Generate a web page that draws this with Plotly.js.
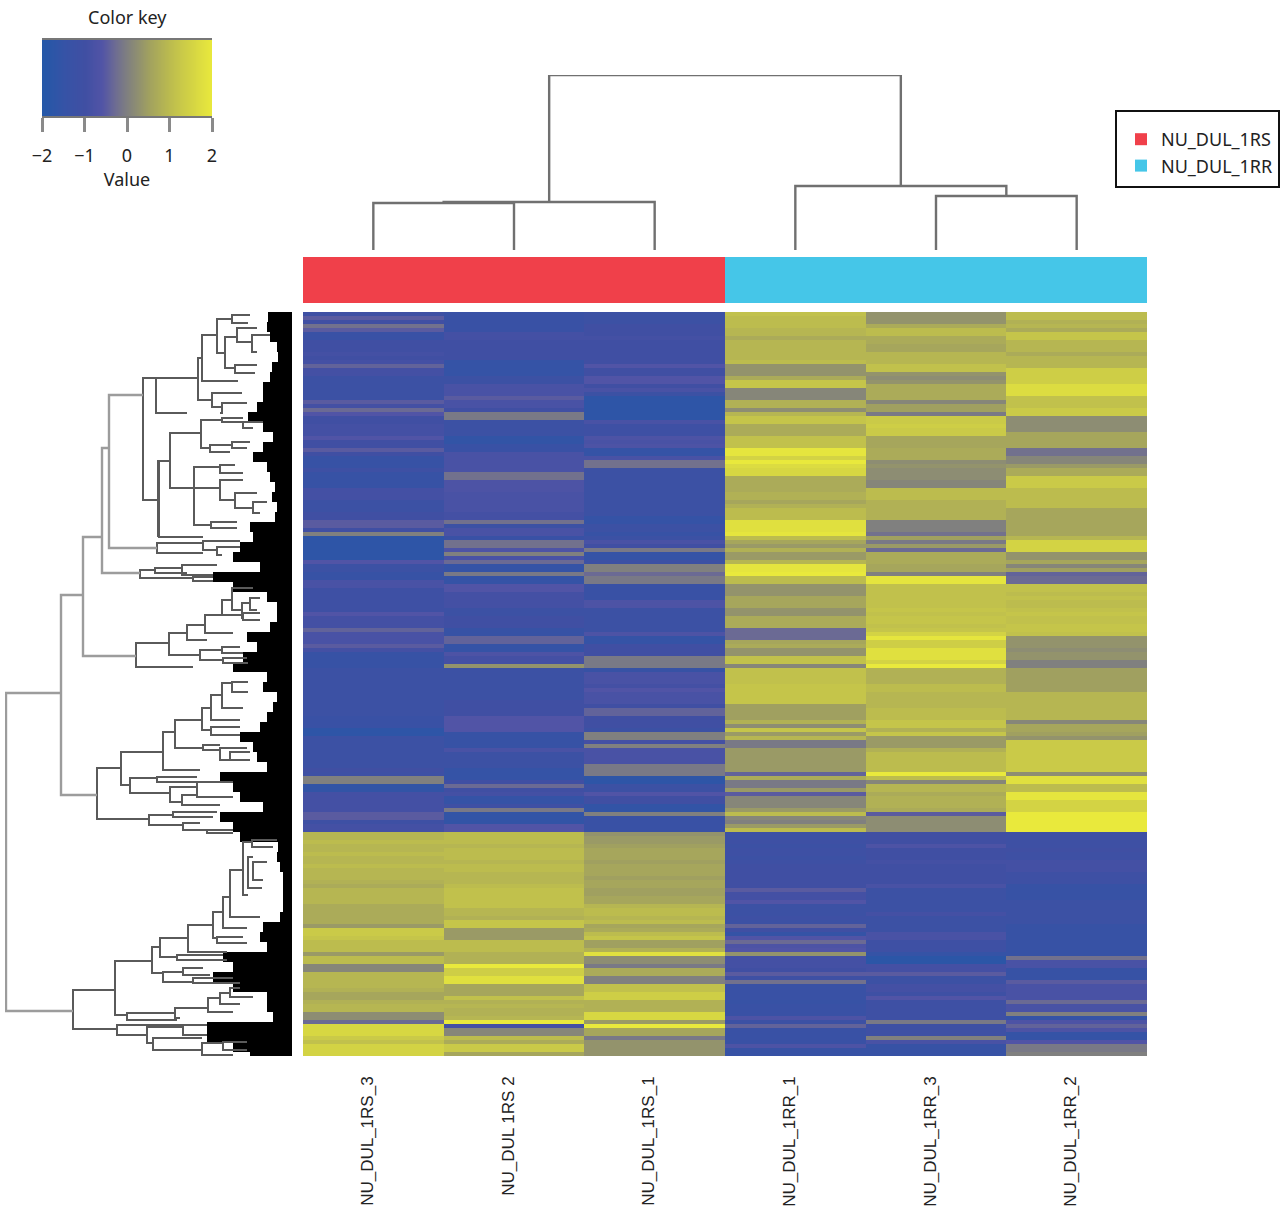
<!DOCTYPE html>
<html>
<head>
<meta charset="utf-8">
<script src="https://cdn.plot.ly/plotly-3.0.0.min.js"></script>
<style>html,body{margin:0;padding:0;background:#fff}#chart{width:1282px;height:1214px}</style>
</head>
<body>
<div id="chart"></div>
<script>
const sampleLabels = ['NU_DUL_1RS_3','NU_DUL 1RS 2','NU_DUL_1RS_1','NU_DUL_1RR_1','NU_DUL_1RR_3','NU_DUL_1RR_2'];
const sampleOrder = [0,1,2,3,4,5];
const groupRS = [0,1,2];
const groupRR = [3,4,5];
const groupNames = ['NU_DUL_1RS','NU_DUL_1RR'];
const keyTicks = [-2,-1,0,1,2];
const keyTickText = ['\u22122','\u22121','0','1','2'];
const keyValues = [-2,-1.75,-1.5,-1.25,-1,-0.75,-0.5,-0.25,0,0.25,0.5,0.75,1,1.25,1.5,1.75,2];
const keyRows = [0,1];

const rs3 = [
-1.1,-0.5,-1.0,-0.2,-0.5,-1.3,-1.3,-1.0,-1.0,-1.0,
-0.9,-1.0,-0.9,-0.4,-0.9,-0.9,-1.2,-1.2,-1.2,-1.2,
-1.2,-1.2,-0.5,-0.9,-0.3,-0.6,-1.0,-1.0,-0.9,-0.9,
-0.9,-0.6,-1.0,-1.0,-0.5,-1.0,-1.4,-1.4,-1.4,-1.1,
-1.4,-1.4,-1.4,-1.4,-0.9,-0.9,-0.9,-1.2,-1.2,-1.2,
-1.0,-1.0,-0.5,-0.5,-1.0,0.0,-1.7,-1.7,-1.7,-1.7,
-1.7,-1.7,-0.6,-1.2,-1.2,-1.4,-1.4,-0.8,-0.8,-1.1,
-1.1,-1.1,-1.1,-1.1,-1.1,-0.6,-0.9,-0.9,-0.9,-0.4,
-0.8,-0.8,-0.8,-0.5,-0.9,-1.4,-1.4,-1.4,-1.4,-1.2,
-1.2,-1.2,-1.2,-1.2,-1.2,-1.2,-1.2,-1.2,-1.2,-1.2,
-1.2,-1.3,-1.3,-1.3,-1.7,-1.7,-1.2,-1.2,-1.2,-1.2,
-1.2,-1.2,-1.2,-1.2,-1.0,-1.1,0.0,0.0,-1.6,-1.6,
-0.9,-0.9,-0.9,-0.9,-0.9,-0.5,-0.5,-1.1,-0.9,-0.9,
0.9,0.9,1.0,0.9,0.9,1.0,0.9,0.9,1.0,0.9,
0.9,0.9,0.8,0.7,0.9,0.9,0.9,0.9,0.7,0.7,
0.7,0.7,0.7,0.4,1.3,1.3,1.2,1.0,1.0,1.0,
0.4,1.0,1.0,0.1,0.1,0.9,0.9,0.9,0.9,0.8,
0.6,0.6,0.8,0.9,0.9,0.2,0.2,-0.3,1.6,1.6,
1.6,1.3,1.1,1.5,1.5,1.5];
const rs2 = [
-1.3,-1.3,-1.3,-1.3,-1.3,-0.9,-0.9,-1.0,-1.0,-1.0,
-1.0,-1.0,-1.5,-1.5,-1.5,-1.5,-1.2,-1.2,-0.8,-0.8,
-0.8,-0.5,-0.8,-0.8,-1.0,-0.1,-0.1,-1.2,-1.2,-1.2,
-1.2,-1.6,-1.6,-1.3,-1.3,-0.8,-0.8,-0.8,-0.8,-0.8,
-0.2,-0.2,-0.7,-0.7,-0.7,-0.8,-0.8,-0.8,-0.8,-0.8,
-0.9,-0.9,-0.2,-1.2,-0.8,-0.8,-1.3,-0.2,-0.2,-0.7,
0.0,-0.8,-0.3,-1.5,-1.5,-0.1,-1.5,-1.5,-0.6,-0.6,
-0.9,-0.9,-0.9,-0.9,-1.2,-1.2,-1.0,-1.0,-1.0,-1.4,
-1.4,-0.4,-0.4,-1.5,-1.5,-0.7,-0.9,-0.9,0.3,-1.2,
-1.2,-1.2,-1.2,-1.2,-1.2,-1.2,-1.2,-1.0,-1.0,-1.0,
-1.0,-0.6,-0.6,-0.6,-0.6,-1.4,-1.4,-1.4,-1.4,-0.8,
-1.2,-1.2,-1.2,-1.2,-1.5,-1.5,-1.5,-1.0,-0.3,-1.0,
-0.9,-1.5,-1.5,-1.1,-0.1,-1.6,-1.6,-1.6,-0.6,-0.6,
1.0,1.0,1.0,0.9,1.0,1.0,1.0,0.9,1.0,1.0,
0.9,0.9,0.9,1.0,1.1,1.1,1.1,1.1,1.1,0.9,
0.9,0.8,1.2,1.2,0.4,0.4,0.4,1.0,1.0,1.0,
0.8,0.8,0.8,2.0,1.4,1.4,1.8,1.8,0.6,0.6,
0.6,1.1,0.8,0.9,0.8,0.8,0.9,2.0,-0.9,0.1,
0.1,1.0,0.7,1.3,1.3,0.6];
const rs1 = [
-1.2,-1.2,-1.2,-1.0,-1.0,-1.0,-0.9,-1.0,-1.0,-1.0,
-1.0,-1.0,-1.0,-0.6,-1.0,-1.0,-0.6,-0.6,-1.0,-0.8,
-1.2,-1.7,-1.7,-1.7,-1.7,-1.7,-1.7,-0.8,-1.1,-1.1,
-1.1,-0.7,-0.8,-0.7,-1.5,-1.5,-0.8,-0.2,-0.2,-1.2,
-1.2,-1.2,-1.2,-1.2,-1.2,-1.2,-1.2,-1.2,-1.2,-1.2,
-1.2,-1.5,-1.5,-1.2,-1.2,-1.4,-1.2,-0.8,-1.0,-0.1,
-1.5,-1.5,-1.2,0.0,0.0,-0.3,-0.1,-0.1,-1.3,-1.3,
-1.3,-1.3,-0.7,-0.7,-1.2,-1.2,-1.2,-1.2,-1.2,-1.2,
-0.7,-1.5,-1.5,-1.0,-1.0,-1.0,-0.1,-0.1,-0.1,-1.4,
-0.8,-0.8,-0.8,-0.9,-0.6,-0.8,-0.8,-0.8,-1.0,-0.4,
-0.4,-1.0,-1.0,-1.0,-1.2,0.0,0.0,-0.9,0.0,-0.8,
-0.8,-0.8,-0.8,-0.1,-0.1,-0.1,-1.7,-1.7,-1.2,-1.2,
-0.6,-1.0,-1.0,-1.6,-1.6,0.0,-1.3,-1.3,-1.3,-1.3,
0.3,0.4,0.4,0.5,0.6,0.6,0.6,0.5,0.6,0.6,
0.6,0.5,0.6,0.6,0.5,0.5,0.6,0.6,0.9,1.0,
1.0,0.9,1.0,0.6,0.7,1.0,1.2,0.5,0.5,0.8,
1.8,0.2,0.2,-0.1,0.7,0.7,0.0,0.0,1.1,1.1,
1.4,1.4,0.8,0.8,0.8,1.6,1.6,0.4,2.0,0.6,
0.6,-0.1,0.3,0.3,0.3,0.3];
const rr1 = [
1.1,1.0,1.0,1.0,0.9,0.9,0.7,0.9,0.9,0.9,
0.9,0.9,1.0,0.3,0.3,0.3,0.7,1.2,1.2,0.1,
0.1,0.1,0.8,0.8,0.2,0.9,1.2,1.2,0.7,0.7,
0.7,1.1,1.1,1.1,1.9,1.9,1.5,2.0,1.7,1.6,
1.6,0.7,0.7,0.7,0.7,0.8,0.8,0.6,0.8,1.0,
1.0,1.0,1.8,1.8,1.8,1.9,1.0,0.6,0.4,0.8,
0.4,0.4,0.9,1.9,1.9,2.0,1.0,1.0,0.3,0.3,
0.3,0.6,0.6,0.6,0.3,0.3,0.7,0.7,0.7,-0.3,
-0.3,-0.3,0.6,0.7,0.3,0.3,1.1,1.1,0.1,1.1,
1.1,1.1,1.1,1.2,1.2,1.2,1.2,1.2,0.5,0.5,
0.5,0.5,0.8,0.2,1.2,0.4,0.9,-0.1,-0.1,0.4,
0.4,0.4,0.4,0.4,0.4,-0.4,0.7,-0.1,-0.1,0.4,
-0.5,0.1,0.1,0.1,0.4,1.0,0.1,0.0,0.4,1.0,
-1.2,-1.2,-1.1,-1.2,-1.1,-1.1,-1.2,-1.1,-1.0,-1.0,
-1.0,-1.0,-1.0,-1.0,-0.5,-0.9,-0.9,-0.6,-1.2,-1.2,
-1.2,-1.1,-1.2,-0.4,-1.0,-1.5,-0.6,-0.3,-0.7,-0.6,
0.3,-0.9,-0.9,-0.9,-1.0,-0.5,-1.1,-0.2,-1.3,-1.3,
-1.3,-1.3,-1.4,-1.3,-1.3,-1.3,-0.7,-1.2,-0.4,-1.3,
-1.3,-1.3,-1.3,-0.7,-1.4,-1.4];
const rr3 = [
0.3,0.3,0.3,0.7,1.0,1.0,0.7,0.7,0.6,0.6,
0.9,0.9,0.9,1.1,1.1,0.3,0.2,0.3,0.7,0.7,
0.7,0.7,0.1,0.5,0.5,-0.1,1.3,1.3,1.4,1.3,
1.3,0.6,0.6,0.6,0.7,0.7,0.7,0.2,0.3,0.2,
0.2,0.2,0.1,0.1,1.0,1.0,1.0,0.8,0.8,0.8,
0.8,0.8,0.0,0.0,0.0,-0.2,0.5,-0.1,0.4,-0.3,
0.7,0.7,0.7,0.6,0.6,0.0,1.9,1.9,1.1,1.1,
1.1,1.1,1.1,1.1,1.2,1.1,1.2,1.2,1.1,1.2,
1.5,1.9,1.4,1.4,1.8,1.8,1.8,1.5,2.0,0.8,
0.8,0.8,0.8,1.0,1.0,0.9,0.9,0.9,0.9,1.0,
1.0,1.0,1.2,1.2,0.8,1.2,0.4,0.4,0.4,0.8,
1.0,1.0,1.0,1.0,1.0,2.0,1.0,0.1,0.9,0.9,
0.7,0.8,0.8,0.8,0.7,-0.5,0.2,0.2,0.2,0.2,
-1.0,-1.0,-1.0,-0.7,-1.0,-1.0,-1.0,-0.9,-1.0,-1.0,
-1.0,-1.0,-1.0,-0.8,-1.2,-1.2,-1.2,-1.2,-1.2,-1.2,
-0.9,-1.2,-1.2,-1.2,-1.2,-0.8,-0.8,-1.1,-1.1,-1.1,
-1.5,-1.8,-1.8,-0.9,-0.9,-0.5,-1.2,-1.2,-0.9,-0.9,
-1.1,-0.6,-1.1,-1.1,-1.1,-1.1,-1.1,-0.1,-1.1,-1.1,
-1.1,0.0,-0.8,-1.4,-1.4,-1.4];
const rr2 = [
1.0,1.0,0.8,0.9,0.7,1.2,1.2,0.9,0.9,0.9,
0.7,0.9,0.9,0.9,1.4,1.4,1.4,1.4,1.7,1.7,
1.7,1.1,1.1,1.1,1.3,1.3,0.2,0.2,0.2,0.2,
0.6,0.6,0.6,0.6,-0.2,-0.2,0.1,0.1,0.4,0.7,
0.7,1.3,1.3,1.3,1.0,1.0,1.0,1.0,1.0,0.6,
0.6,0.6,0.6,0.6,0.6,0.6,0.9,1.5,1.5,1.5,
0.3,0.3,0.6,0.1,0.5,-0.4,-0.3,-0.3,1.1,1.1,
1.0,1.1,1.0,1.0,1.1,1.2,1.1,1.1,1.2,1.2,
1.1,0.3,0.3,0.3,0.2,0.3,0.3,0.0,0.0,0.5,
0.5,0.5,0.5,0.5,0.5,0.9,0.9,0.9,0.9,0.9,
0.9,0.9,0.1,0.6,0.6,0.5,0.3,1.3,1.3,1.3,
1.3,1.3,1.3,1.3,1.3,0.2,1.8,1.8,1.0,1.0,
1.9,1.9,1.5,1.5,1.5,2.0,2.0,2.0,2.0,2.0,
-1.1,-1.1,-1.1,-1.1,-1.0,-1.1,-1.1,-0.9,-0.9,-0.9,
-1.1,-1.1,-1.1,-1.4,-1.4,-1.4,-1.4,-1.2,-1.2,-1.2,
-1.2,-1.2,-1.2,-1.4,-1.4,-1.4,-1.4,-1.4,-1.4,-1.4,
-1.4,-0.2,-0.8,-0.8,-1.4,-1.4,-1.4,-0.5,-0.8,-0.8,
-0.8,-0.8,-0.3,-0.8,-0.8,0.0,-1.5,-0.7,-0.4,-0.7,
-1.5,-1.5,-0.6,-0.1,-0.1,0.0];

// Sample tree: [height, left position, left child height, right position, right child height]
const topTree = [
[26.9,0,0,1,0],
[27.4,0.5,26.9,2,0],
[30.9,4,0,5,0],
[36.6,3,0,4.5,30.9],
[100,1.25,27.4,3.75,36.6]];

// Gene tree: [distance, upper leaf position, upper child distance, lower leaf position, lower child distance]
const geneTreeOuter = [
[286,381,231,699,219],[231,283,209,483,195],[209,225,190,344,156],[190,136,183,261,152],[183,83,149,236,135]];
const geneTreeInner = [
[149,66,136,188,134],[136,66,94,101,105],[94,46,90,88,80],[90,23,75,69,54],[75,7,60,41,67],
[60,3,42,11,44],[67,25,55,56,57],[55,16,35,30,40],[40,23,22,40,35],[57,53,35,61,37],
[80,81,50,95,70],[70,91,45,101,72],[134,149,133,225,134],[133,149,122,225,89],[122,121,91,176,98],
[91,108,70,136,82],[70,106,49,110,49],[49,110,29,116,39],[82,133,60,140,62],[60,130,42,136,45],
[98,155,72,213,81],[98,176,72,176,72],[72,168,49,188,57],[57,181,35,196,39],[39,190,25,201,32],
[72,153,57,161,49],[81,210,55,216,55],[135,231,89,241,89],[89,229,52,238,75],[75,235,52,243,70],
[152,258,137,266,99],[137,256,110,261,105],[110,253,75,263,79],[99,265,79,269,79],
[156,331,123,355,99],[123,321,105,343,92],[105,313,87,328,85],[87,303,70,321,59],[70,288,60,303,49],
[60,276,39,298,50],[50,291,42,306,49],[42,286,32,298,35],[49,301,32,308,32],[92,338,70,348,69],
[70,335,52,341,49],[69,346,45,351,44],
[195,456,171,507,143],[171,440,129,473,162],[129,420,117,458,92],[117,408,90,436,89],[90,396,81,418,81],
[81,383,70,408,52],[70,371,60,396,49],[60,370,44,380,44],[81,415,52,423,52],[89,433,72,438,72],
[72,436,45,448,62],[62,440,42,448,42],[162,466,135,481,122],[135,465,95,470,95],[122,475,95,490,110],
[95,470,59,485,59],[110,483,94,493,72],[143,503,119,513,109],[119,500,75,505,79],[109,511,92,518,85],
[85,518,59,521,59],
[219,678,177,717,175],[177,649,140,703,165],[140,635,132,661,129],[132,626,104,645,115],[104,613,79,640,65],
[79,600,69,626,75],[69,585,62,616,45],[62,558,49,605,32],[49,530,40,583,44],[40,528,15,535,19],
[44,545,39,576,30],[39,550,25,568,29],[75,625,49,631,45],[115,643,69,648,65],[129,660,109,670,99],
[109,656,89,663,82],[99,666,59,671,52],[165,701,117,708,115],[117,696,84,706,112],[84,686,72,700,59],
[72,681,62,692,52],[62,676,52,685,39],[175,713,105,723,145],[145,715,109,731,139],[109,713,85,723,85],
[139,726,90,738,90],[90,731,69,743,59],[69,730,45,738,45]];

// Depth of the dense leaf fan, one value per 10 leaf positions
const leafFanPositions = [];
for (let k = 0; k < 75; k++) leafFanPositions.push(k * 10 + 5);
const leafFanDepth = [
24,25,22,15,14,20,22,29,29,35,44,29,19,29,39,25,22,17,20,15,
17,42,39,52,59,32,79,59,25,15,15,22,45,35,49,59,25,29,
15,19,25,32,52,39,35,25,72,59,52,29,72,59,52,14,15,12,9,9,
9,9,12,29,32,25,69,59,79,59,25,25,19,85,85,59,42];

const heatColors = [
[0,'#2458a8'],[0.125,'#3553a6'],[0.25,'#404fa3'],[0.35,'#5154a6'],[0.425,'#6b6a94'],
[0.5,'#80807f'],[0.625,'#a0a060'],[0.75,'#bcbc4e'],[0.875,'#d3d344'],[1,'#e9e93c']];

const W = 1282, H = 1214;
const xDom = (a, b) => [a / W, b / W];
const yDom = (top, bottom) => [1 - bottom / H, 1 - top / H];

const heatColumns = [rs3, rs2, rs1, rr1, rr3, rr2];
const rowCount = rs3.length;
const rowIndex = Array.from({length: rowCount}, (_, i) => i);
const z = rowIndex.map(i => heatColumns.map(c => c[i]));

function hBrackets(table) {
  const xs = [], ys = [];
  table.forEach(([d, p1, c1, p2, c2]) => {
    xs.push(c1, d, d, c2, null);
    ys.push(p1, p1, p2, p2, null);
  });
  return {x: xs, y: ys};
}
function vBrackets(table) {
  const xs = [], ys = [];
  table.forEach(([h, p1, c1, p2, c2]) => {
    xs.push(p1, p1, p2, p2, null);
    ys.push(c1, h, h, c2, null);
  });
  return {x: xs, y: ys};
}
const topLines = vBrackets(topTree);
const outerLines = hBrackets(geneTreeOuter);
const innerLines = hBrackets(geneTreeInner);
const keyZ = keyRows.map(() => keyValues);

const fontFam = '"Noto Sans", sans-serif';

const traces = [
  {type:'heatmap', x:sampleOrder, y:rowIndex, z:z, xaxis:'x', yaxis:'y', colorscale:heatColors, zmin:-2, zmax:2, showscale:false, hoverinfo:'skip'},
  {type:'bar', name:groupNames[0], x:groupRS, y:groupRS.map(() => 1), xaxis:'x', yaxis:'y2', width:1, marker:{color:'#f0404a', line:{width:0}}, hoverinfo:'skip', showlegend:true},
  {type:'bar', name:groupNames[1], x:groupRR, y:groupRR.map(() => 1), xaxis:'x', yaxis:'y2', width:1, marker:{color:'#45c6e8', line:{width:0}}, hoverinfo:'skip', showlegend:true},
  {type:'scatter', mode:'lines', x:topLines.x, y:topLines.y, xaxis:'x', yaxis:'y3', line:{color:'#707070', width:2.4}, cliponaxis:false, showlegend:false, hoverinfo:'skip'},
  {type:'bar', orientation:'h', x:leafFanDepth, y:leafFanPositions, xaxis:'x4', yaxis:'y4', width:10, marker:{color:'#000', line:{width:0}}, showlegend:false, hoverinfo:'skip'},
  {type:'scatter', mode:'lines', x:innerLines.x, y:innerLines.y, xaxis:'x4', yaxis:'y4', line:{color:'#5a5a5a', width:2}, cliponaxis:false, showlegend:false, hoverinfo:'skip'},
  {type:'scatter', mode:'lines', x:outerLines.x, y:outerLines.y, xaxis:'x4', yaxis:'y4', line:{color:'#9c9c9c', width:2.4}, cliponaxis:false, showlegend:false, hoverinfo:'skip'},
  {type:'heatmap', x:keyValues, y:keyRows, z:keyZ, xaxis:'x5', yaxis:'y5', colorscale:heatColors, zmin:-2, zmax:2, zsmooth:'best', showscale:false, hoverinfo:'skip'}
];

const hidden = {visible:false, fixedrange:true};
const layout = {
  width:W, height:H, autosize:false,
  margin:{l:0,r:0,t:0,b:0,pad:0},
  paper_bgcolor:'#fff', plot_bgcolor:'rgba(0,0,0,0)',
  font:{family:fontFam, color:'#222', size:18},
  barmode:'overlay', bargap:0,
  showlegend:true,
  legend:{x:1121/W, xanchor:'left', y:1-121/H, yanchor:'top', bgcolor:'rgba(0,0,0,0)', borderwidth:0, font:{family:fontFam, size:18, color:'#222'}, itemclick:false, itemdoubleclick:false},
  xaxis:{domain:xDom(303,1147), range:[-0.5,5.5], anchor:'y', tickmode:'array', tickvals:sampleOrder, ticktext:sampleLabels, tickangle:-90, showgrid:false, zeroline:false, showline:false, ticks:'', ticklabelstandoff:16, ticklabelshift:-6, tickfont:{family:'"Liberation Sans", sans-serif', size:17, color:'#222'}, fixedrange:true},
  yaxis:Object.assign({domain:yDom(312,1056), range:[rowCount-0.5,-0.5], anchor:'x'}, hidden),
  yaxis2:Object.assign({domain:yDom(257,303), range:[0,1], anchor:'x'}, hidden),
  yaxis3:Object.assign({domain:yDom(75,250), range:[0,100], anchor:'x'}, hidden),
  xaxis4:Object.assign({domain:xDom(5,292), range:[287,0], anchor:'y4'}, hidden),
  yaxis4:Object.assign({domain:yDom(312,1056), range:[744,0], anchor:'x4'}, hidden),
  xaxis5:{domain:xDom(42,212), range:[-2,2], anchor:'y5', tickmode:'array', tickvals:keyTicks, ticktext:keyTickText, ticks:'outside', ticklen:14, tickwidth:3, tickcolor:'#8a8a8a', showgrid:false, zeroline:false, showline:true, linecolor:'#777', linewidth:2, mirror:true, tickfont:{family:fontFam, size:18, color:'#222'}, ticklabelstandoff:8, title:{text:'Value', font:{family:fontFam, size:18, color:'#222'}, standoff:2}, fixedrange:true},
  yaxis5:Object.assign({domain:yDom(40,116), range:[-0.5,1.5], anchor:'x5'}, hidden),
  annotations:[{xref:'paper', yref:'paper', x:127/W, y:1-17/H, text:'Color key', showarrow:false, xanchor:'center', yanchor:'middle', font:{family:fontFam, size:18, color:'#222'}}],
  shapes:[{type:'rect', xref:'paper', yref:'paper', x0:1116/W, x1:1279/W, y0:1-187/H, y1:1-111/H, line:{color:'#111', width:2}, fillcolor:'rgba(0,0,0,0)'}]
};
Plotly.newPlot('chart', traces, layout, {displayModeBar:false, staticPlot:true});
</script>
</body>
</html>
